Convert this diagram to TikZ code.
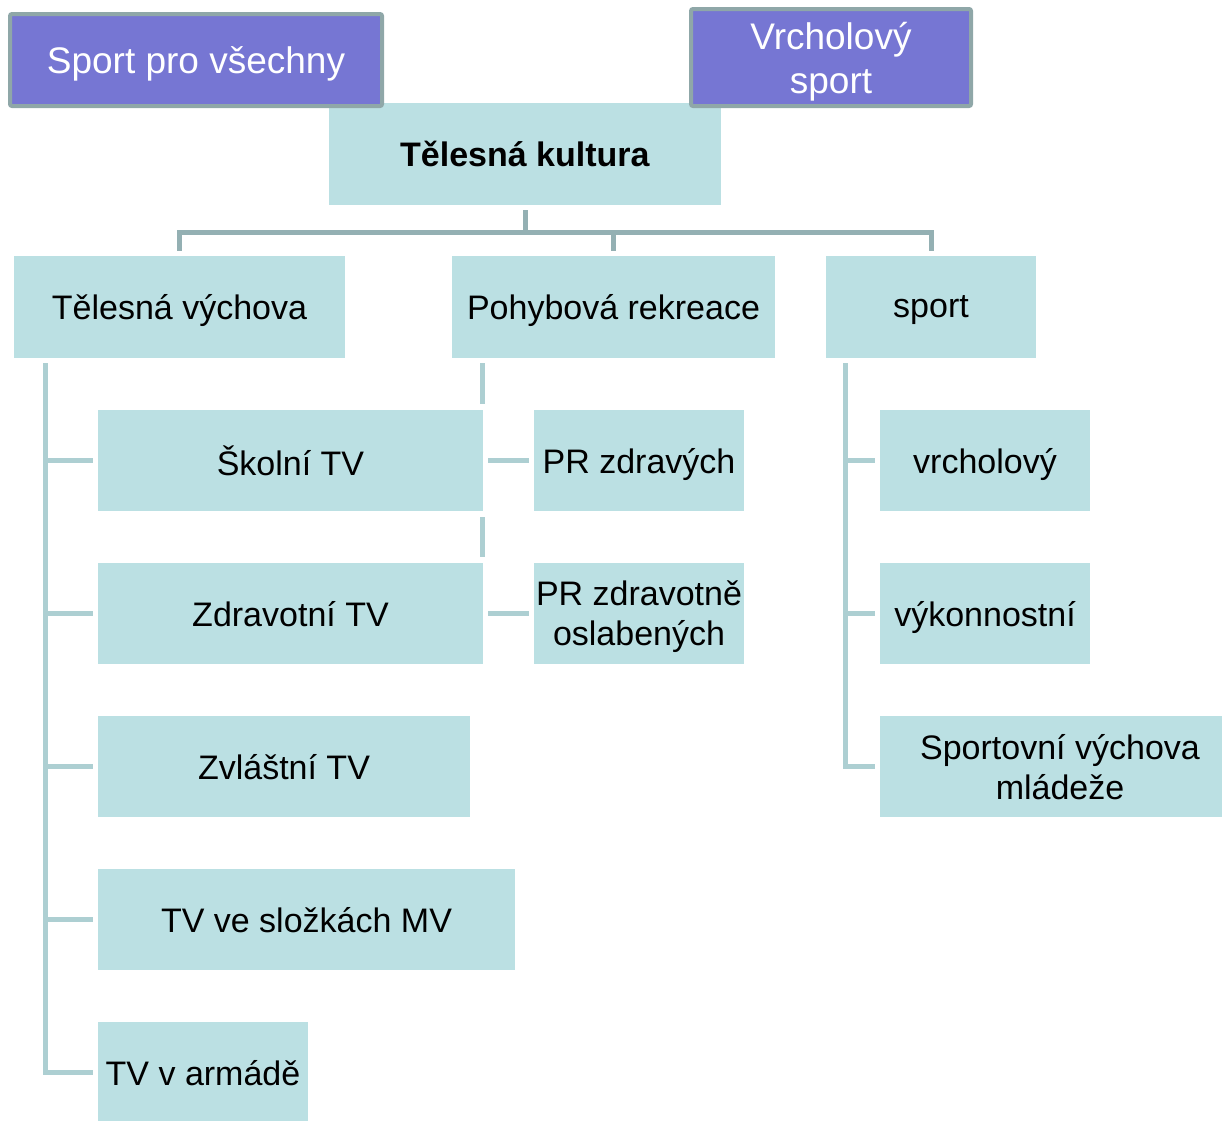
\documentclass[tikz,border=0pt]{standalone}
\usepackage{fontspec}
\setmainfont{Liberation Sans}
\usetikzlibrary{backgrounds}
\definecolor{boxfill}{HTML}{BBE0E3}
\definecolor{violet}{HTML}{7676D3}
\definecolor{violetrim}{HTML}{8FA7A8}
\definecolor{trunkcol}{HTML}{94B0B3}
\definecolor{branchcol}{HTML}{ADCFD2}
\begin{document}
\begin{tikzpicture}[x=1pt, y=-1pt,
    every node/.style={shape=rectangle, align=center, inner sep=0pt, outer sep=0pt,
      text depth=0pt, font=\fontsize{34}{40}\selectfont},
    item/.style={fill=boxfill, draw=white, line width=5.5pt,
      minimum height=107pt},
    topic/.style={fill=violet, draw=violetrim, line width=4pt, rounded corners=2pt,
      text=white, font=\fontsize{37}{44}\selectfont},
    trunk/.style={draw=trunkcol, line width=5pt},
    branch/.style={draw=branchcol, line width=5pt}]
  \useasboundingbox (0,0) rectangle (1222,1120);
  \node[item, minimum width=397pt] (kultura) at (525,154) {\textbf{Tělesná kultura}};
  \node[topic, minimum width=372pt, minimum height=92pt] (vsichni) at (196,60) {Sport pro všechny};
  \node[topic, minimum width=280pt, minimum height=97pt] (vrchol) at (831,57.5) {Vrcholový\\sport};
  \node[item, minimum width=336pt] (vychova) at (179.5,307) {Tělesná výchova};
  \node[item, minimum width=328pt] (rekreace) at (613.5,307) {Pohybová rekreace};
  \node[item, minimum width=215pt] (sport) at (931,307) {sport};
  % Telesna vychova
  \foreach \name/\cx/\w/\txt [count=\i from 0] in
      {skolni/290.5/390/{Školní TV}, zdravotni/290.5/390/{Zdravotní TV},
       zvlastni/284/377/{Zvláštní TV}, slozky/306.5/422/{TV ve složkách MV},
       armada/203/215/{TV v armádě}}
    \node[item, minimum width=\w pt] (\name) at (\cx,460.5+153*\i) {\txt};
  % Pohybova rekreace
  \node[item, minimum width=215pt] (zdravych) at (639,460.5) {PR zdravých};
  \node[item, minimum width=215pt] (oslabenych) at (639,613.5) {PR zdravotně\\oslabených};
  % sport
  \node[item, minimum width=215pt] (vrcholovy) at (985,460.5) {vrcholový};
  \node[item, minimum width=215pt] (vykonnostni) at (985,613.5) {výkonnostní};
  \node[item, minimum width=365pt] (mladez) at (1060,766.5) {Sportovní výchova\\mládeže};
  \begin{scope}[on background layer]
    \coordinate (bar) at (0,232);
    \draw[trunk] (kultura.south) -- (kultura.south |- bar);
    \draw[trunk] (vychova.north) -- (vychova.north |- bar) -- (sport.north |- bar) -- (sport.north);
    \draw[trunk] (rekreace.north) -- (rekreace.north |- bar);
    \foreach \c in {skolni,zdravotni,zvlastni,slozky,armada}
      \draw[branch] ([xshift=33.75]vychova.south west) |- (\c.west);
    \foreach \c in {zdravych,oslabenych}
      \draw[branch] ([xshift=32.75]rekreace.south west) |- (\c.west);
    \foreach \c in {vrcholovy,vykonnostni,mladez}
      \draw[branch] ([xshift=21.75]sport.south west) |- (\c.west);
  \end{scope}
\end{tikzpicture}
\end{document}
